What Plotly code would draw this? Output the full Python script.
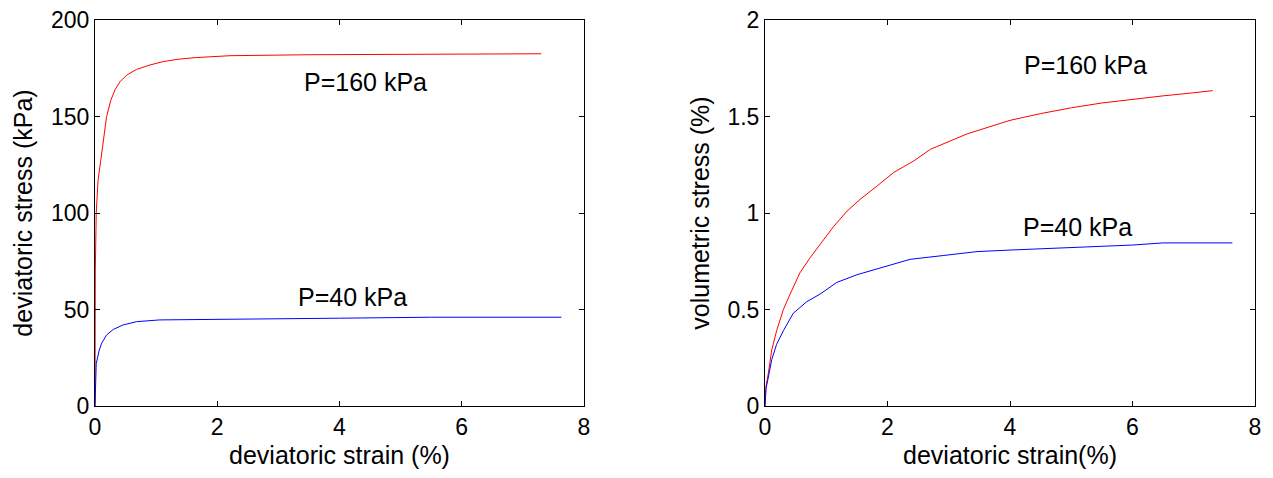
import plotly.graph_objects as go
from plotly.subplots import make_subplots

# Left panel: deviatoric stress vs deviatoric strain
left_red_x = [0, 0.003, 0.005, 0.02, 0.05, 0.093, 0.136, 0.19, 0.26, 0.33, 0.41, 0.52, 0.68, 0.9,
              1.11, 1.34, 1.64, 2.21, 3.5, 5.0, 7.3]
left_red_y = [0, 40, 70, 100, 117, 127, 138, 150, 158.5, 164, 168, 171.5, 174.4, 176.7,
              178.4, 179.6, 180.5, 181.5, 182, 182.3, 182.5]
left_blue_x = [0, 0.016, 0.02, 0.07, 0.11, 0.19, 0.3, 0.46, 0.68, 1.06, 2.0, 4.0, 5.5, 7.63]
left_blue_y = [0, 17, 22, 29, 32.6, 36.8, 39.7, 42, 43.7, 44.6, 45, 45.5, 46, 46]

# Right panel: volumetric stress vs deviatoric strain
right_red_x = [0, 0.016, 0.055, 0.11, 0.19, 0.3, 0.41, 0.57, 0.74, 0.9, 1.12, 1.34, 1.55, 1.83,
               2.1, 2.43, 2.7, 3.3, 4.0, 4.5, 5.0, 5.5, 6.0, 6.5, 7.0, 7.31]
right_red_y = [0, 0.1, 0.17, 0.29, 0.39, 0.50, 0.58, 0.69, 0.77, 0.84, 0.93, 1.01, 1.07, 1.14,
               1.21, 1.27, 1.33, 1.41, 1.48, 1.515, 1.545, 1.57, 1.59, 1.607, 1.623, 1.634]
right_blue_x = [0, 0.016, 0.055, 0.11, 0.19, 0.3, 0.46, 0.68, 0.9, 1.17, 1.5, 1.94, 2.37, 2.92,
                3.46, 4.0, 5.0, 6.0, 6.5, 7.63]
right_blue_y = [0, 0.09, 0.15, 0.24, 0.32, 0.39, 0.48, 0.54, 0.58, 0.64, 0.68, 0.72, 0.76, 0.78,
                0.80, 0.808, 0.822, 0.834, 0.845, 0.845]

x_ticks = [0, 2, 4, 6, 8]
left_y_ticks = [0, 50, 100, 150, 200]
right_y_ticks = [0, 0.5, 1, 1.5, 2]
right_y_labels = ["0", "0.5", "1", "1.5", "2"]

labels = ["P=160 kPa", "P=40 kPa"]

FONT = "Liberation Sans, Arial, sans-serif"
W, H = 1273, 478

fig = make_subplots(rows=1, cols=2)

fig.add_trace(go.Scatter(x=left_red_x, y=left_red_y, mode="lines",
                         line=dict(color="#ff0000", width=1)), row=1, col=1)
fig.add_trace(go.Scatter(x=left_blue_x, y=left_blue_y, mode="lines",
                         line=dict(color="#0000ff", width=1)), row=1, col=1)
fig.add_trace(go.Scatter(x=right_red_x, y=right_red_y, mode="lines",
                         line=dict(color="#ff0000", width=1)), row=1, col=2)
fig.add_trace(go.Scatter(x=right_blue_x, y=right_blue_y, mode="lines",
                         line=dict(color="#0000ff", width=1)), row=1, col=2)

axis_common = dict(showline=True, linecolor="black", linewidth=1, mirror="ticks",
                   ticks="inside", ticklen=5, tickcolor="black", showgrid=False,
                   zeroline=False, automargin=False,
                   tickfont=dict(family=FONT, size=23, color="black"))

fig.update_xaxes(**axis_common, range=[0, 8], tickvals=x_ticks)
fig.update_xaxes(domain=[95 / W, 584 / W], row=1, col=1,
                 title=dict(text="deviatoric strain (%)", font=dict(family=FONT, size=25, color="black"),
                            standoff=7))
fig.update_xaxes(domain=[765 / W, 1255 / W], row=1, col=2,
                 title=dict(text="deviatoric strain(%)", font=dict(family=FONT, size=25, color="black"),
                            standoff=7))

fig.update_yaxes(**axis_common)
fig.update_yaxes(range=[0, 200], tickvals=left_y_ticks, row=1, col=1,
                 title=dict(text="deviatoric stress (kPa)", font=dict(family=FONT, size=25, color="black"),
                            standoff=11))
fig.update_yaxes(range=[0, 2], tickvals=right_y_ticks, ticktext=right_y_labels, row=1, col=2,
                 title=dict(text="volumetric stress (%)", font=dict(family=FONT, size=25, color="black"),
                            standoff=10))

ann_font = dict(family=FONT, size=25, color="black")
fig.add_annotation(x=4.42, y=168, xref="x", yref="y", text=labels[0], showarrow=False, font=ann_font)
fig.add_annotation(x=4.21, y=56.5, xref="x", yref="y", text=labels[1], showarrow=False, font=ann_font)
fig.add_annotation(x=5.23, y=1.767, xref="x2", yref="y2", text=labels[0], showarrow=False, font=ann_font)
fig.add_annotation(x=5.11, y=0.927, xref="x2", yref="y2", text=labels[1], showarrow=False, font=ann_font)

fig.update_layout(width=W, height=H, showlegend=False,
                  margin=dict(l=0, r=0, t=20, b=72),
                  plot_bgcolor="white", paper_bgcolor="white",
                  font=dict(family=FONT, color="black"))

fig.write_html("out.html", config={"displayModeBar": False},
               post_script="document.body.style.margin='0';document.body.style.padding='0';")
